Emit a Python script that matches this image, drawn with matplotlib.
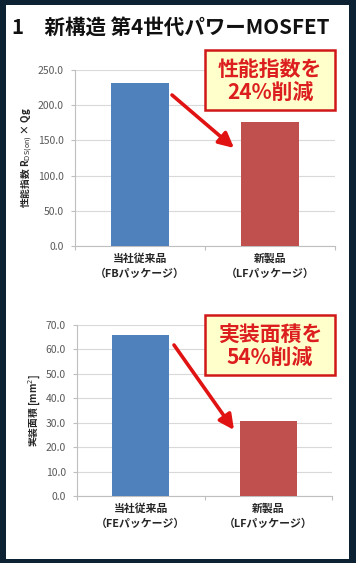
"""
新構造 第4世代パワーMOSFET - 性能指数 / 実装面積の比較
"""

import matplotlib
matplotlib.use('Agg')
import matplotlib.pyplot as plt
from matplotlib.patches import Rectangle

plt.rcParams['font.family'] = ['Noto Sans CJK JP', 'DejaVu Sans']
plt.rcParams['mathtext.fontset'] = 'dejavusans'

# data
title = '1\u2003新構造 第4世代パワーMOSFET'
fom_labels = ['当社従来品\n（FBパッケージ）', '新製品\n（LFパッケージ）']
fom_values = [232.0, 176.0]
fom_ticks = [0, 50, 100, 150, 200, 250]
area_labels = ['当社従来品\n（FEパッケージ）', '新製品\n（LFパッケージ）']
area_values = [66.0, 30.7]
area_ticks = [0, 10, 20, 30, 40, 50, 60, 70]

bar_colors = ['#4f81bd', '#c0504d']
W, H = 356, 563

fig = plt.figure(figsize=(W / 100, H / 100), dpi=100, facecolor='#0c2232')
# white panel inside the dark frame
fig.patches.append(Rectangle((6 / W, 4 / H), 343 / W, 554 / H, transform=fig.transFigure,
                             facecolor='white', edgecolor='none', zorder=-5))

fig.text(12 / W, 1 - 27 / H, title, fontsize=14.8, fontweight='bold', color='#111111',
         ha='left', va='center')


def px(x, y):
    # figure pixel (from top-left) -> figure fraction
    return (x / W, 1 - y / H)


def bar_panel(rect, labels, values, ticks, ylabel):
    ax = fig.add_axes(rect)
    ax.set_facecolor('none')
    ax.bar(range(len(values)), values, width=0.45, color=bar_colors, zorder=3)
    ax.set_xlim(-0.5, len(values) - 0.5)
    ax.set_ylim(ticks[0], ticks[-1])
    ax.set_yticks(ticks)
    ax.set_yticklabels([f'{t:.1f}' for t in ticks], fontsize=7.5, color='#595959')
    ax.set_xticks([-0.5, 0.5, 1.5])
    ax.set_xticklabels([])
    ax.tick_params(axis='both', length=3, color='#bfbfbf', width=0.8)
    ax.tick_params(axis='y', pad=5)
    for i, lab in enumerate(labels):
        ax.text(i, -0.04, lab, transform=ax.get_xaxis_transform(), ha='center', va='top',
                fontsize=7.8, fontweight='bold', color='#262626', linespacing=1.6)
    ax.grid(True, axis='y', color='#d9d9d9', linewidth=0.8, zorder=0)
    for side in ['top', 'right']:
        ax.spines[side].set_visible(False)
    for side in ['left', 'bottom']:
        ax.spines[side].set_color('#bfbfbf')
        ax.spines[side].set_linewidth(0.8)
    ax.set_ylabel(ylabel, fontsize=7, fontweight='bold', color='#262626', labelpad=2)
    return ax


ax1 = bar_panel([75 / W, 1 - 246 / H, 260 / W, 176 / H], fom_labels, fom_values, fom_ticks,
                '性能指数 R$_{\\mathrm{DS(on)}}$ × Qg')
ax2 = bar_panel([77 / W, 1 - 496 / H, 255 / W, 171 / H], area_labels, area_values, area_ticks,
                '実装面積 [mm$^2$]')

# overlay axes for the arrows, drawn in figure space
ax_arrow = fig.add_axes([0, 0, 1, 1], facecolor='none')
ax_arrow.set_axis_off()


def callout(box, text, start, end):
    x0, y0, x1, y1 = box
    fig.patches.append(Rectangle(px(x0, y1), (x1 - x0) / W, (y1 - y0) / H,
                                 transform=fig.transFigure, facecolor='#ffffcc',
                                 edgecolor='#d01818', linewidth=1.8, zorder=5))
    fig.text(*px((x0 + x1) / 2, (y0 + y1) / 2 + 1), text, fontsize=15, fontweight='bold',
             color='#dc1e1e', ha='center', va='center', linespacing=1.15, zorder=6)
    ax_arrow.annotate('', xy=px(*end), xytext=px(*start), xycoords='figure fraction',
                      textcoords='figure fraction',
                      arrowprops=dict(arrowstyle='-|>,head_length=0.9,head_width=0.45',
                                      color='#e01212', linewidth=2.6, shrinkA=0, shrinkB=0))


callout((205, 50, 335, 110), '性能指数を\n24%削減', (172, 95), (234, 148))
callout((205, 315, 335, 375), '実装面積を\n54%削減', (174, 345), (234, 430))

plt.savefig('out.png', dpi=100, facecolor=fig.get_facecolor())
plt.close()
